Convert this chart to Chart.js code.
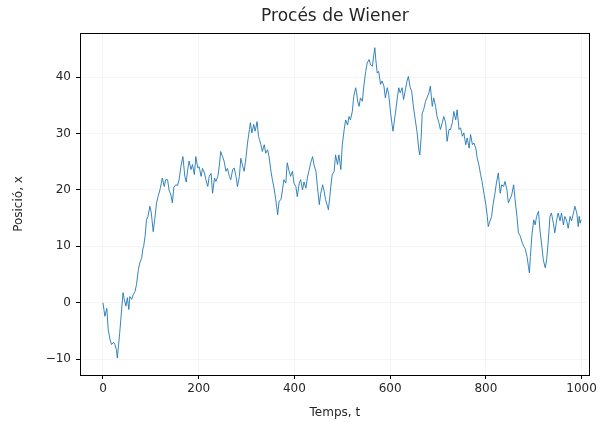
<!DOCTYPE html>
<html>
<head>
<meta charset="utf-8">
<script src="https://cdn.jsdelivr.net/npm/chart.js@4.4.1/dist/chart.umd.min.js"></script>
<style>
    body { margin: 0; background: #fff; }
    canvas { display: block; }
</style>
</head>
<body>
<canvas id="chart" width="600" height="427"></canvas>
<script>
// valors llegits de la gràfica (temps, posició)
const steps = [
    0, 4, 8, 11, 15, 18, 22, 25, 28, 30, 32, 35, 39, 42, 44, 48, 51, 54, 56, 60,
    63, 67, 70, 74, 77, 81, 83, 85, 88, 91, 94, 98, 101, 105, 108, 112, 115, 119, 122, 124,
    128, 131, 135, 138, 142, 145, 148, 152, 156, 159, 163, 167, 171, 174, 177, 180, 184, 187, 191, 194,
    198, 201, 205, 208, 212, 215, 219, 222, 226, 229, 233, 236, 240, 243, 246, 250, 253, 257, 260, 264,
    267, 271, 274, 278, 281, 285, 288, 292, 295, 299, 302, 306, 308, 311, 315, 318, 322, 325, 327, 330,
    333, 337, 340, 344, 347, 351, 354, 358, 361, 365, 368, 372, 375, 378, 382, 385, 389, 392, 396, 399,
    403, 406, 410, 413, 417, 420, 424, 427, 431, 434, 438, 441, 445, 448, 452, 455, 459, 462, 465, 469,
    471, 474, 476, 479, 483, 486, 490, 493, 497, 500, 504, 507, 511, 514, 517, 521, 524, 528, 530, 532,
    535, 538, 542, 545, 549, 552, 556, 559, 563, 566, 568, 570, 573, 576, 580, 583, 587, 590, 594, 597,
    601, 604, 606, 609, 611, 615, 618, 621, 625, 628, 632, 635, 638, 642, 645, 649, 652, 656, 660, 662,
    665, 667, 670, 674, 677, 681, 684, 688, 691, 695, 698, 702, 705, 709, 712, 716, 719, 723, 726, 730,
    733, 737, 740, 744, 747, 751, 754, 758, 761, 765, 768, 772, 775, 779, 782, 786, 789, 792, 796, 800,
    803, 805, 808, 812, 815, 819, 822, 826, 830, 833, 837, 840, 844, 847, 851, 854, 858, 861, 865, 868,
    872, 875, 879, 882, 886, 889, 891, 893, 896, 900, 903, 906, 910, 913, 917, 920, 924, 927, 930, 934,
    937, 941, 944, 948, 951, 955, 958, 962, 965, 969, 972, 976, 979, 983, 986, 990, 993, 995, 997, 999
];
const position = [
    0, -2.4, -1.0, -4.8, -6.6, -7.4, -7.0, -7.4, -8.3, -9.8, -8.0, -5.3, -1.2, 1.8, 0.8, -0.6, 0.9, -1.2, 1.1, 0.6,
    1.4, 2.0, 3.2, 5.9, 7.1, 8.0, 9.4, 10.0, 11.8, 14.7, 15.3, 17.1, 15.9, 12.6, 14.7, 17.7, 18.8, 20.0, 21.2, 22.1,
    20.6, 21.8, 21.8, 20.0, 19.1, 17.7, 20.4, 20.9, 20.8, 21.8, 24.2, 25.9, 22.4, 21.4, 23.6, 25.1, 23.6, 24.5, 22.7, 25.9,
    23.9, 24.1, 22.4, 23.8, 23.0, 21.8, 20.6, 22.4, 22.9, 19.4, 22.1, 21.5, 22.4, 24.2, 26.8, 25.9, 25.1, 23.3, 23.8, 22.4,
    21.8, 23.6, 23.9, 22.4, 20.6, 22.4, 25.6, 24.2, 23.3, 25.9, 28.3, 30.7, 31.9, 30.1, 31.6, 30.4, 32.1, 29.5, 28.9, 28.0,
    26.8, 28.0, 26.5, 27.1, 25.9, 23.3, 21.8, 20.0, 18.3, 15.6, 18.0, 18.3, 20.0, 21.8, 21.2, 24.8, 23.3, 22.4, 23.3, 21.2,
    20.6, 18.8, 21.2, 21.8, 20.0, 21.4, 20.3, 22.1, 23.6, 24.8, 25.9, 24.4, 23.3, 20.6, 17.4, 19.4, 20.9, 19.8, 18.3, 17.1,
    16.5, 18.8, 20.6, 22.7, 23.3, 26.2, 24.5, 26.2, 23.6, 28.0, 30.7, 32.4, 31.5, 33.0, 32.4, 33.9, 36.6, 38.1, 37.2, 35.7,
    34.8, 36.3, 35.7, 38.4, 41.0, 42.5, 43.1, 42.2, 41.9, 44.0, 45.2, 43.1, 40.7, 41.0, 38.7, 39.3, 38.4, 36.3, 38.1, 36.9,
    33.6, 31.6, 30.4, 32.4, 33.6, 36.3, 38.1, 37.2, 38.1, 36.0, 37.8, 39.2, 40.1, 38.1, 37.5, 34.5, 32.7, 30.4, 27.1, 26.2,
    29.5, 33.6, 34.2, 35.7, 36.3, 37.2, 38.4, 34.8, 36.3, 34.8, 33.0, 31.9, 30.7, 31.9, 33.0, 31.9, 28.6, 30.7, 30.7, 31.9,
    33.9, 32.4, 34.2, 30.7, 31.0, 29.5, 30.1, 28.0, 29.2, 27.4, 29.8, 28.0, 28.3, 27.4, 25.6, 24.2, 22.7, 21.5, 19.4, 17.4,
    15.3, 13.5, 14.3, 15.3, 17.4, 19.4, 21.2, 23.0, 19.4, 20.9, 20.6, 21.5, 20.0, 17.7, 18.5, 19.1, 20.9, 18.3, 15.3, 12.4,
    11.8, 10.9, 10.0, 9.6, 8.2, 6.4, 5.3, 8.2, 11.8, 14.7, 13.8, 15.3, 16.2, 12.9, 10.0, 7.6, 6.2, 7.6, 10.6, 15.3,
    15.9, 14.1, 12.4, 14.7, 15.9, 14.5, 15.9, 13.8, 15.3, 14.5, 13.2, 15.3, 14.5, 15.9, 17.1, 15.9, 13.5, 15.3, 14.1, 14.7
];
const xTicks = [0, 200, 400, 600, 800, 1000];
const yTicks = [-10, 0, 10, 20, 30, 40];
const chartTitle = "Procés de Wiener";

const FONT = "'DejaVu Sans', sans-serif";
const TEXT = "#262626";

// marc complet dels eixos i títol centrat sobre l'àrea del gràfic
const framePlugin = {
    id: "frame",
    afterDraw(chart) {
        const { ctx, chartArea: a } = chart;
        ctx.save();
        ctx.strokeStyle = "#000";
        ctx.lineWidth = 1;
        ctx.strokeRect(Math.round(a.left) + 0.5, Math.round(a.top) + 0.5,
            Math.round(a.right - a.left) - 1, Math.round(a.bottom - a.top));
        ctx.fillStyle = TEXT;
        ctx.font = `17px ${FONT}`;
        ctx.textAlign = "center";
        ctx.textBaseline = "middle";
        ctx.fillText(chartTitle, (a.left + a.right) / 2, 17);
        ctx.restore();
    }
};

function initChart() {
    const ctx = document.getElementById("chart").getContext("2d");
    new Chart(ctx, {
        type: "line",
        data: {
            datasets: [{
                data: steps.map((t, i) => ({ x: t, y: position[i] })),
                borderColor: "#1f77b4",
                borderWidth: 0.9,
                pointRadius: 0,
                tension: 0,
                fill: false
            }]
        },
        options: {
            responsive: false,
            devicePixelRatio: 1,
            animation: false,
            layout: { padding: { left: 0, right: 9, top: 33, bottom: 0 } },
            plugins: {
                legend: { display: false },
                tooltip: { enabled: false },
                title: { display: false }
            },
            scales: {
                x: {
                    type: "linear",
                    min: -48,
                    max: 1017,
                    afterBuildTicks: axis => { axis.ticks = xTicks.map(v => ({ value: v })); },
                    afterFit: axis => { axis.height = 52; },
                    ticks: {
                        color: TEXT,
                        font: { family: FONT, size: 12 },
                        padding: 3,
                        maxRotation: 0,
                        callback: v => String(v)
                    },
                    grid: {
                        color: "rgba(0,0,0,0.04)",
                        tickColor: "#000",
                        tickLength: 4,
                        drawTicks: true
                    },
                    border: { display: false },
                    title: {
                        display: true,
                        text: "Temps, t",
                        color: TEXT,
                        font: { family: FONT, size: 12 },
                        padding: { top: 0, bottom: 7 }
                    }
                },
                y: {
                    type: "linear",
                    min: -12.8,
                    max: 47.8,
                    afterBuildTicks: axis => { axis.ticks = yTicks.map(v => ({ value: v })); },
                    afterFit: axis => { axis.width = 80; },
                    ticks: {
                        color: TEXT,
                        font: { family: FONT, size: 12 },
                        padding: 5,
                        callback: v => v < 0 ? "\u2212" + Math.abs(v) : String(v)
                    },
                    grid: {
                        color: "rgba(0,0,0,0.04)",
                        tickColor: "#000",
                        tickLength: 4,
                        drawTicks: true
                    },
                    border: { display: false },
                    title: {
                        display: true,
                        text: "Posició, x",
                        color: TEXT,
                        font: { family: FONT, size: 12 },
                        padding: { top: 12, bottom: 0 }
                    }
                }
            }
        },
        plugins: [framePlugin]
    });
}

document.addEventListener("DOMContentLoaded", initChart);
</script>
</body>
</html>
